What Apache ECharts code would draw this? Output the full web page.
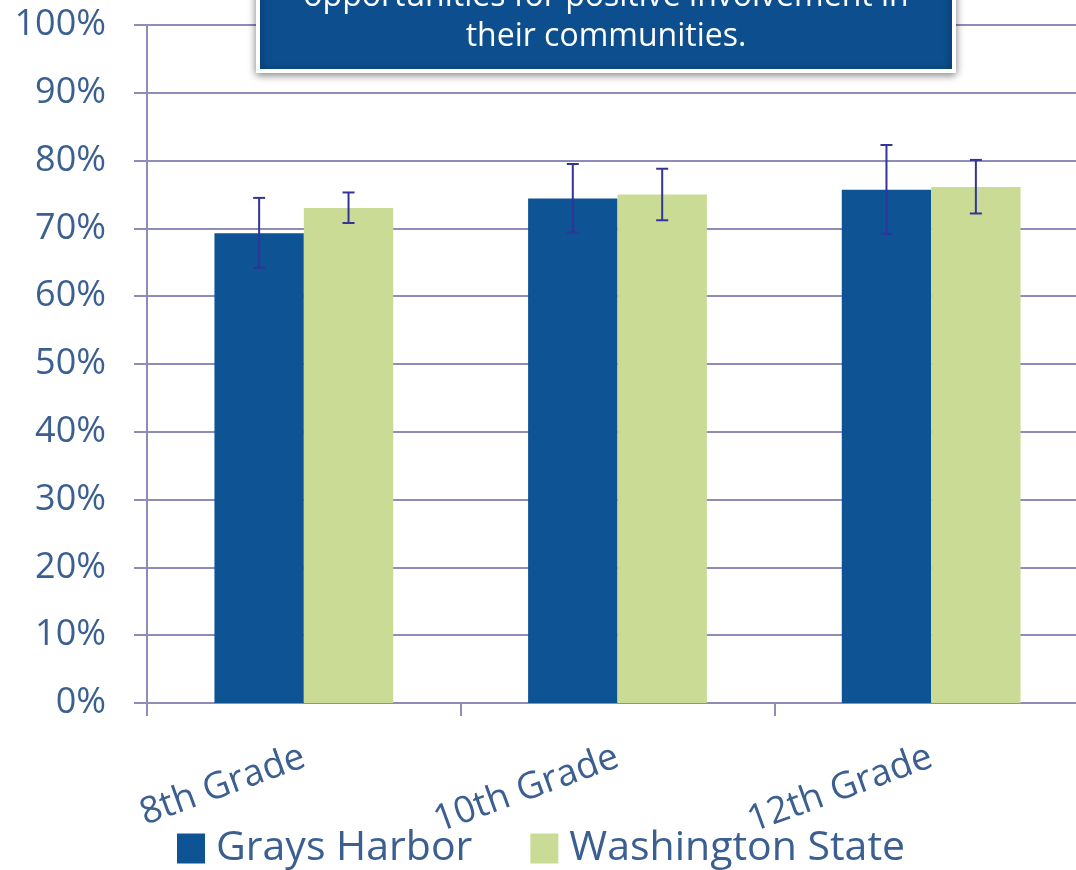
<!DOCTYPE html>
<html>
<head>
<meta charset="utf-8">
<script src="https://cdn.jsdelivr.net/npm/echarts@6/dist/echarts.min.js"></script>
<style>
  html, body { margin: 0; padding: 0; background: #fff; }
  #chart { width: 1076px; height: 870px; }
</style>
</head>
<body>
<div id="chart"></div>
<script>
// data
const grades = ['8th Grade', '10th Grade', '12th Grade'];
const graysHarbor = [69.3, 74.4, 75.7];
const graysHarborLow = [64.2, 69.4, 69.2];
const graysHarborHigh = [74.5, 79.5, 82.3];
const washington = [73.0, 75.0, 76.1];
const washingtonLow = [70.8, 71.2, 72.2];
const washingtonHigh = [75.3, 78.8, 80.1];
const boxLines = ['opportunities for positive involvement in', 'their communities.'];

const labelColor = '#3a5f90';
const lineColor = '#8e8cb8';
const barShare = 0.285; // bar width as share of category

function errorSeries(name, low, high, side) {
    return {
        name: name,
        type: 'custom',
        z: 10,
        silent: true,
        data: grades.map((g, i) => [i, low[i], high[i]]),
        renderItem: function (params, api) {
            const cat = api.value(0);
            const lo = api.coord([cat, api.value(1)]);
            const hi = api.coord([cat, api.value(2)]);
            const bw = api.size([1, 0])[0] * barShare;
            const x = lo[0] + side * bw / 2;
            const cap = 6;
            const style = { stroke: '#33339a', lineWidth: 2 };
            return {
                type: 'group',
                children: [
                    { type: 'line', shape: { x1: x, y1: hi[1], x2: x, y2: lo[1] }, style: style },
                    { type: 'line', shape: { x1: x - cap, y1: hi[1], x2: x + cap, y2: hi[1] }, style: style },
                    { type: 'line', shape: { x1: x - cap, y1: lo[1], x2: x + cap, y2: lo[1] }, style: style }
                ]
            };
        }
    };
}

const myChart = echarts.init(document.getElementById('chart'));
const option = {
    animation: false,
    textStyle: { fontFamily: 'Open Sans' },
    grid: {
        left: 147,
        top: 25,
        width: 941,
        bottom: 167,
        outerBoundsMode: 'none'
    },
    legend: {
        left: 172,
        top: 823,
        itemWidth: 28,
        itemHeight: 30,
        itemGap: 58,
        icon: 'rect',
        data: ['Grays Harbor', 'Washington State'],
        textStyle: {
            color: labelColor,
            fontSize: 41,
            padding: [0, 0, 0, 6]
        }
    },
    xAxis: {
        type: 'category',
        data: grades,
        axisLine: { lineStyle: { color: lineColor, width: 2 } },
        axisTick: { show: true, length: 13, lineStyle: { color: lineColor, width: 2 } },
        axisLabel: {
            rotate: 20,
            margin: 53,
            color: labelColor,
            fontSize: 37
        }
    },
    yAxis: {
        type: 'value',
        min: 0,
        max: 100,
        interval: 10,
        axisLine: { show: true, lineStyle: { color: lineColor, width: 2 } },
        axisTick: { show: true, length: 13, lineStyle: { color: lineColor, width: 2 } },
        splitLine: { lineStyle: { color: lineColor, width: 2 } },
        axisLabel: {
            formatter: '{value}%',
            margin: 41,
            color: labelColor,
            fontSize: 36
        }
    },
    series: [
        {
            name: 'Grays Harbor',
            type: 'bar',
            barWidth: (barShare * 100) + '%',
            barGap: '0%',
            itemStyle: { color: '#0e5394' },
            data: graysHarbor
        },
        {
            name: 'Washington State',
            type: 'bar',
            barWidth: (barShare * 100) + '%',
            barGap: '0%',
            itemStyle: { color: '#cadb95' },
            data: washington
        },
        errorSeries('gh-err', graysHarborLow, graysHarborHigh, -1),
        errorSeries('wa-err', washingtonLow, washingtonHigh, 1)
    ],
    graphic: [
        {
            type: 'rect',
            z: 100,
            shape: { x: 258, y: -60, width: 696, height: 131 },
            style: {
                fill: '#0d4f8e',
                stroke: '#ffffff',
                lineWidth: 4,
                shadowBlur: 8,
                shadowOffsetY: 2,
                shadowColor: 'rgba(0,0,0,0.45)'
            }
        },
        {
            type: 'text',
            z: 101,
            x: 606,
            y: -3,
            style: {
                text: boxLines[0],
                fill: '#ffffff',
                font: '32px "Open Sans"',
                align: 'center',
                verticalAlign: 'middle'
            }
        },
        {
            type: 'text',
            z: 101,
            x: 606,
            y: 37,
            style: {
                text: boxLines[1],
                fill: '#ffffff',
                font: '32px "Open Sans"',
                align: 'center',
                verticalAlign: 'middle'
            }
        }
    ]
};
myChart.setOption(option);
</script>
</body>
</html>
